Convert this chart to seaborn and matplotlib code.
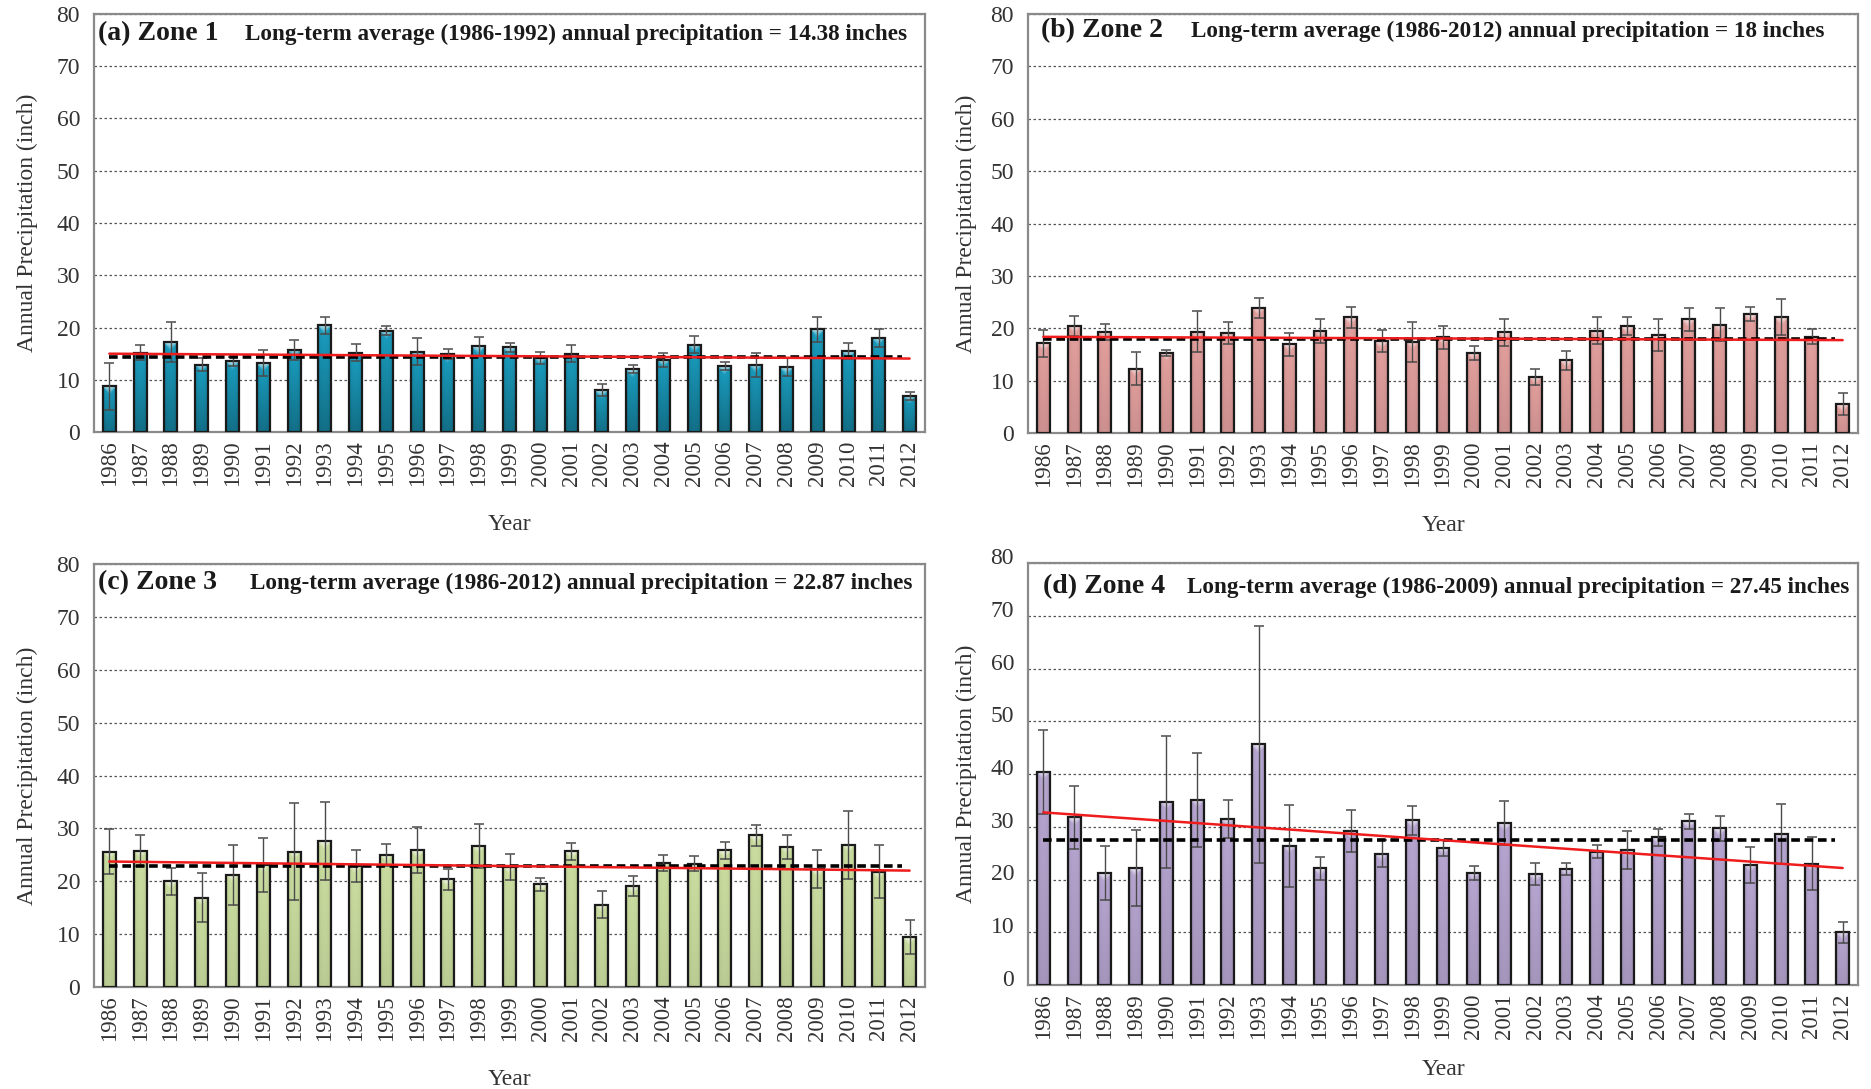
import numpy as np
import pandas as pd
import matplotlib
matplotlib.use("Agg")
import matplotlib.pyplot as plt
import matplotlib.transforms as mtransforms
from matplotlib.colors import to_rgb
from matplotlib.ticker import FixedLocator, NullFormatter
import seaborn as sns

# ---------------------------------------------------------------- data
years = list(range(1986, 2013))

zone1_precip = [8.8, 15.2, 17.2, 12.9, 13.5, 13.2, 15.7, 20.4, 15.2, 19.4, 15.4, 14.9, 16.4,
                16.2, 14.2, 15.0, 8.0, 12.0, 13.8, 16.7, 12.6, 12.9, 12.4, 19.7, 15.5, 18.0, 6.9]
zone1_err = [4.5, 1.5, 3.8, 1.2, 0.8, 2.5, 2.0, 1.7, 1.6, 0.9, 2.5, 1.0, 1.8,
             0.8, 1.2, 1.6, 1.1, 0.8, 1.3, 1.6, 0.8, 2.3, 1.7, 2.4, 1.5, 1.8, 0.8]

zone2_precip = [17.1, 20.5, 19.3, 12.3, 15.3, 19.3, 19.1, 23.9, 16.9, 19.5, 22.1, 17.5, 17.4,
                18.3, 15.3, 19.2, 10.7, 13.9, 19.5, 20.4, 18.7, 21.7, 20.7, 22.7, 22.1, 18.4, 5.5]
zone2_err = [2.5, 1.9, 1.5, 3.2, 0.6, 3.9, 2.1, 1.9, 2.2, 2.3, 2.0, 2.1, 3.8,
             2.2, 1.4, 2.6, 1.5, 1.8, 2.6, 1.7, 3.0, 2.2, 3.2, 1.3, 3.4, 1.5, 2.1]

zone3_precip = [25.6, 25.8, 20.0, 16.9, 21.2, 23.1, 25.6, 27.6, 22.9, 25.0, 25.9, 20.4, 26.7,
                22.7, 19.4, 25.7, 15.6, 19.1, 23.5, 23.3, 25.9, 28.7, 26.5, 22.3, 26.9, 21.8, 9.4]
zone3_err = [4.3, 3.0, 2.6, 4.7, 5.7, 5.1, 9.2, 7.4, 3.0, 2.1, 4.4, 2.0, 4.2,
             2.4, 1.3, 1.6, 2.6, 1.9, 1.5, 1.4, 1.6, 2.0, 2.3, 3.6, 6.4, 5.0, 3.2]

zone4_precip = [40.4, 31.8, 21.2, 22.1, 34.7, 35.1, 31.5, 45.6, 26.4, 22.1, 29.2, 24.9, 31.2,
                26.0, 21.3, 30.7, 21.0, 22.0, 25.3, 25.5, 28.0, 31.0, 29.7, 22.8, 28.6, 23.0, 10.0]
zone4_err = [8.0, 6.0, 5.1, 7.2, 12.5, 8.9, 3.6, 22.4, 7.8, 2.2, 4.0, 2.6, 2.8,
             1.5, 1.3, 4.2, 2.1, 1.1, 1.3, 3.6, 1.6, 1.5, 2.4, 3.4, 5.7, 5.0, 2.0]

panel_labels = ["(a) Zone 1", "(b) Zone 2", "(c) Zone 3", "(d) Zone 4"]
avg_periods = ["1986-1992", "1986-2012", "1986-2012", "1986-2009"]
long_term_avg = [14.38, 18, 22.87, 27.45]
avg_text = ["14.38", "18", "22.87", "27.45"]

bar_colors = ["#1a9ec0", "#e3a09e", "#cbdea0", "#b7a6d1"]
bottom_darken = [0.30, 0.10, 0.08, 0.10]

# ---------------------------------------------------------------- style
sns.set_theme(style="white")
plt.rcParams["font.family"] = ["Liberation Serif", "DejaVu Serif"]

W, H = 1871, 1089
fig = plt.figure(figsize=(W / 100, H / 100), dpi=100)


def px_rect(left, top, right, bottom):
    return [left / W, 1 - bottom / H, (right - left) / W, (bottom - top) / H]


axes_boxes = [
    px_rect(94, 14, 925, 432),
    px_rect(1028, 14, 1858, 433),
    px_rect(94, 564, 925, 987),
    px_rect(1028, 563, 1858, 985),
]
title_pos = [(98, 40, 245), (1041, 37, 1191), (98, 589, 250), (1043, 593, 1187)]
ylabel_pads = [13, 10, 13, 10]
xlabel_pads = [20, 20, 20, 14]

zones = [
    (zone1_precip, zone1_err),
    (zone2_precip, zone2_err),
    (zone3_precip, zone3_err),
    (zone4_precip, zone4_err),
]

spine_gray = "#8a8a8a"
text_gray = "#333333"


def shade_bars(ax, base, darken, px_per_unit):
    """Fill each bar with a soft glossy gradient clipped to the bar outline."""
    base = np.array(to_rgb(base))
    for patch in list(ax.patches):
        x0, w, h = patch.get_x(), patch.get_width(), patch.get_height()
        if h <= 0:
            continue
        n_rows, n_cols = 200, 24
        depth_px = np.linspace(0, h * px_per_unit, n_rows)[:, None]
        t = np.linspace(0, 1, n_rows)[:, None]
        u = np.abs(np.linspace(-1, 1, n_cols))[None, :]
        col = base[None, None, :] * (1 - darken * t[..., None])
        col = col * (1 - 0.10 * (u ** 3)[..., None])
        hl = np.clip(1 - depth_px / (9 * (1 - 0.8 * u) + 1e-6), 0, 1) * 0.75
        col = col * (1 - hl[..., None]) + hl[..., None]
        im = ax.imshow(np.clip(col, 0, 1), extent=(x0, x0 + w, 0, h), origin="upper",
                       aspect="auto", interpolation="bilinear", zorder=2.9)
        im.set_clip_path(patch)
        patch.set_facecolor("none")
        patch.set_zorder(3.2)


for i, (vals, errs) in enumerate(zones):
    ax = fig.add_axes(axes_boxes[i])
    df = pd.DataFrame({"Year": [str(y) for y in years], "Precip": vals})
    sns.barplot(data=df, x="Year", y="Precip", color=bar_colors[i], width=0.42,
                saturation=1, edgecolor="#1a1a1a", linewidth=1.6, errorbar=None,
                ax=ax, zorder=3)
    ax_h_px = axes_boxes[i][3] * H
    shade_bars(ax, bar_colors[i], bottom_darken[i], ax_h_px / 80)

    xpos = np.arange(len(years))
    ax.errorbar(xpos, vals, yerr=errs, fmt="none", ecolor="#4a4a4a",
                elinewidth=1.0, capsize=3.5, capthick=1.1, zorder=4)

    # long-term average (dashed) and linear trend (red)
    ax.plot([0, len(years) - 1.25], [long_term_avg[i]] * 2, color="black",
            lw=2.6, dashes=(2.4, 1.3), zorder=5)
    coef = np.polyfit(xpos, vals, 1)
    ax.plot([xpos[0], xpos[-1]], np.polyval(coef, [xpos[0], xpos[-1]]),
            color="#ee1c1c", lw=1.8, zorder=6)

    ax.set_xlim(-0.5, len(years) - 0.5)
    ax.set_ylim(0, 80)
    ax.set_yticks(range(0, 81, 10))
    ax.yaxis.grid(True, color="#555555", lw=0.9, ls=(0, (2, 2)))
    ax.set_axisbelow(True)

    ax.xaxis.set_minor_locator(FixedLocator(np.arange(-0.5, len(years), 1.0)))
    ax.xaxis.set_minor_formatter(NullFormatter())
    ax.tick_params(axis="x", which="major", length=0, labelrotation=90,
                   labelsize=16.5, labelcolor=text_gray, pad=6)
    ax.tick_params(axis="x", which="minor", length=6, width=1.2,
                   color=spine_gray, direction="out")
    ax.tick_params(axis="y", which="major", length=6, width=1.2, color=spine_gray,
                   direction="out", labelsize=17, labelcolor=text_gray, pad=4)
    for side in ["left", "right", "top", "bottom"]:
        ax.spines[side].set_visible(True)
        ax.spines[side].set_color(spine_gray)
        ax.spines[side].set_linewidth(1.6)

    ax.set_xlabel("Year", fontsize=17, color=text_gray, labelpad=xlabel_pads[i])
    ax.set_ylabel("Annual Precipitation (inch)", fontsize=17, color=text_gray,
                  labelpad=ylabel_pads[i])

    if i == 3:
        shift = mtransforms.ScaledTranslation(0, 7 / 100, fig.dpi_scale_trans)
        for lab in ax.get_yticklabels():
            lab.set_transform(lab.get_transform() + shift)

    tx, ty, sx = title_pos[i]
    fig.text(tx / W, 1 - ty / H, panel_labels[i], fontsize=20, fontweight="bold",
             color="#1a1a1a", va="baseline", ha="left")
    fig.text(sx / W, 1 - ty / H,
             f"Long-term average ({avg_periods[i]}) annual precipitation = {avg_text[i]} inches",
             fontsize=16.7, fontweight="bold", color="#1a1a1a", va="baseline", ha="left")

fig.savefig("out.png", dpi=100)
